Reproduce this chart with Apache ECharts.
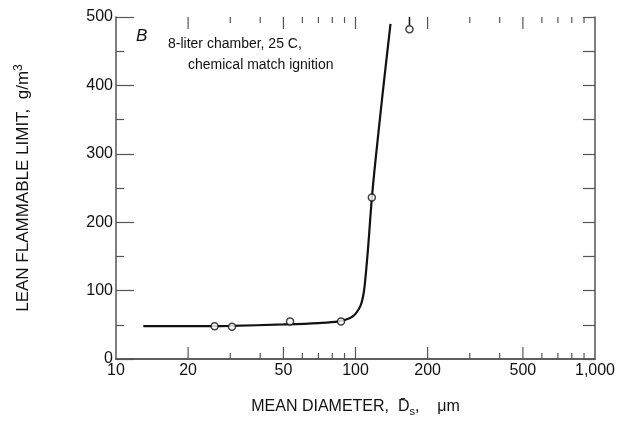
<!DOCTYPE html>
<html>
<head>
<meta charset="utf-8">
<script src="https://cdn.jsdelivr.net/npm/echarts@6/dist/echarts.min.js"></script>
<style>html,body{margin:0;padding:0;background:#fff}#c{width:617px;height:422px}</style>
</head>
<body>
<div id="c"></div>
<script>
// Fitted curve (mean diameter µm, lean limit g/m3)
const curveD = [13, 20, 30, 50, 70, 85, 95, 100, 105, 108, 110, 113, 117, 122, 130, 140];
const curveL = [48, 48, 48.5, 50.5, 52.5, 55, 60, 66, 78, 95, 118, 165, 235, 300, 390, 490];
// Measured points
const pointD = [25.8, 30.5, 53.3, 87, 117, 168];
const pointL = [48, 47, 55, 55, 236, 482];
// Axis ticks and labels
const xLabelValues = [10, 20, 50, 100, 200, 500, 1000];
const xLabelTexts = ['10', '20', '50', '100', '200', '500', '1,000'];
const xMajorTicks = [20, 50, 100, 200, 500];
const xMinorTicks = [30, 40, 60, 70, 80, 90, 300, 400, 600, 700, 800, 900];
const yTickLabels = ['0', '100', '200', '300', '400', '500'];

const FONT = 'Liberation Sans';
const INK = '#111';
const FRAME = '#555';

const chart = echarts.init(document.getElementById('c'));

const tickData = []
  .concat(xMajorTicks.map(v => [v, 0, 1]))
  .concat(xMinorTicks.map(v => [v, 0, 0]));
const labelData = xLabelValues.map((v, i) => [v, 0, xLabelTexts[i]]);

chart.setOption({
  animation: false,
  backgroundColor: '#fff',
  grid: { left: 116, right: 22, top: 17, bottom: 51 },
  xAxis: [
    {
      type: 'log', logBase: 10, min: 10, max: 1000, position: 'bottom',
      axisLine: { lineStyle: { color: FRAME, width: 1.5 } },
      axisTick: { show: false }, axisLabel: { show: false }, splitLine: { show: false },
      name: 'MEAN DIAMETER,  D\u0304{sub|s},    \u03bcm',
      nameLocation: 'middle', nameGap: 38,
      nameTextStyle: {
        fontFamily: FONT, fontSize: 16, color: INK, padding: [0, 0, 0, 0],
        rich: { sub: { fontFamily: FONT, fontSize: 11, color: INK, verticalAlign: 'bottom', padding: [9, 0, 0, 0] } }
      }
    },
    {
      type: 'log', logBase: 10, min: 10, max: 1000, position: 'top',
      axisLine: { lineStyle: { color: FRAME, width: 1.5 } },
      axisTick: { show: false }, axisLabel: { show: false }, splitLine: { show: false }
    }
  ],
  yAxis: [
    {
      type: 'value', min: 0, max: 500, interval: 100, position: 'left',
      axisLine: { show: true, lineStyle: { color: FRAME, width: 1.5 } },
      axisTick: { show: true, inside: true, length: 18, lineStyle: { color: FRAME, width: 1.2 } },
      minorTick: { show: true, splitNumber: 2, length: 8, lineStyle: { color: FRAME, width: 1.2 } },
      axisLabel: {
        margin: 3, fontFamily: FONT, fontSize: 16, color: INK,
        formatter: (v) => yTickLabels[Math.round(v / 100)]
      },
      splitLine: { show: false },
      name: 'LEAN FLAMMABLE LIMIT,  g/m{sup|3}',
      nameLocation: 'middle', nameRotate: 90, nameGap: 82,
      nameTextStyle: {
        fontFamily: FONT, fontSize: 17, color: INK, padding: [0, 0, 0, 0],
        rich: { sup: { fontFamily: FONT, fontSize: 12, color: INK, verticalAlign: 'top', padding: [0, 0, 9, 0] } }
      }
    },
    {
      type: 'value', min: 0, max: 500, interval: 50, position: 'right',
      axisLine: { show: true, lineStyle: { color: FRAME, width: 1.5 } },
      axisTick: { show: true, inside: true, length: 12, lineStyle: { color: FRAME, width: 1.2 } },
      axisLabel: { show: false }, splitLine: { show: false }
    }
  ],
  graphic: [
    { type: 'text', left: 136, top: 28, style: { text: 'B', font: 'italic 17px ' + FONT, fill: INK } },
    { type: 'text', left: 168, top: 37, style: { text: '8-liter chamber, 25 C,', font: '14px ' + FONT, fill: INK } },
    { type: 'text', left: 188, top: 58, style: { text: 'chemical match ignition', font: '14px ' + FONT, fill: INK } }
  ],
  series: [
    {
      type: 'line', xAxisIndex: 0, yAxisIndex: 0,
      data: curveD.map((d, i) => [d, curveL[i]]),
      smooth: 0.35, showSymbol: false, symbol: 'none',
      lineStyle: { color: INK, width: 2.2 }, z: 3
    },
    {
      type: 'scatter', xAxisIndex: 0, yAxisIndex: 0,
      data: pointD.map((d, i) => [d, pointL[i]]),
      symbol: 'circle', symbolSize: 7,
      itemStyle: { color: '#fff', borderColor: INK, borderWidth: 1.5 }, z: 4
    },
    {
      type: 'line', xAxisIndex: 0, yAxisIndex: 0,
      data: [[pointD[5], pointL[5] + 6], [pointD[5], 500]],
      showSymbol: false, symbol: 'none', lineStyle: { color: INK, width: 1.5 }, z: 3
    },
    {
      type: 'custom', xAxisIndex: 0, yAxisIndex: 0, clip: false, silent: true,
      data: tickData,
      renderItem: function (params, api) {
        const v = api.value(0);
        const major = api.value(2) === 1;
        const len = major ? 12 : 6;
        const b = api.coord([v, 0]);
        const t = api.coord([v, 500]);
        return {
          type: 'group',
          children: [
            { type: 'line', shape: { x1: b[0], y1: b[1], x2: b[0], y2: b[1] - len }, style: { stroke: FRAME, lineWidth: 1.2 } },
            { type: 'line', shape: { x1: t[0], y1: t[1], x2: t[0], y2: t[1] + len }, style: { stroke: FRAME, lineWidth: 1.2 } }
          ]
        };
      }
    },
    {
      type: 'custom', xAxisIndex: 0, yAxisIndex: 0, clip: false, silent: true,
      data: labelData,
      renderItem: function (params, api) {
        const v = api.value(0);
        const b = api.coord([v, 0]);
        return {
          type: 'text',
          style: {
            x: b[0], y: b[1] + 4, text: labelData[params.dataIndex][2],
            font: '16px ' + FONT, fill: INK, align: 'center', verticalAlign: 'top'
          }
        };
      }
    }
  ]
});
</script>
</body>
</html>
